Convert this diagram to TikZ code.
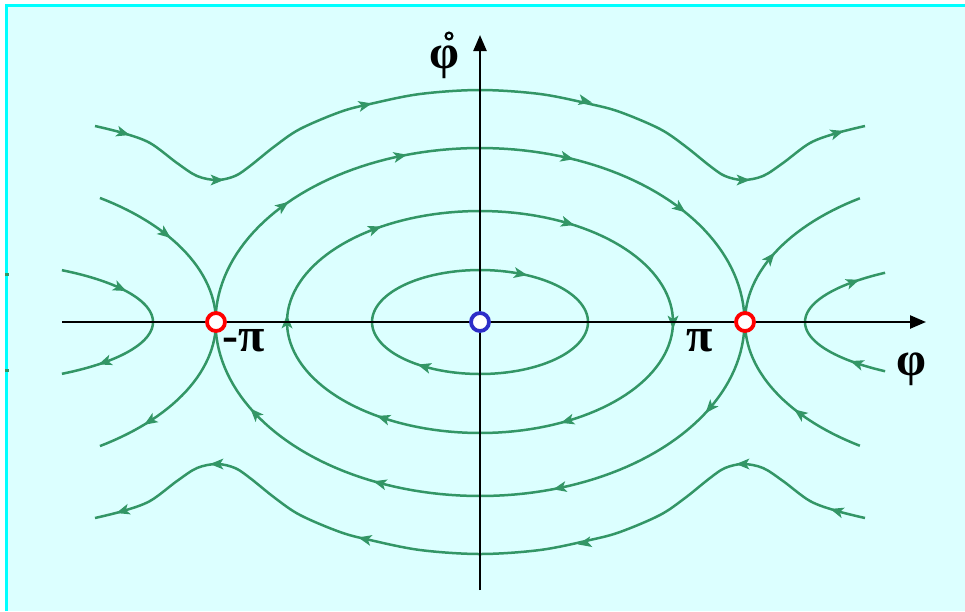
\documentclass[tikz,border=0pt]{standalone}
\usepackage{fontspec}
\setmainfont{Liberation Serif}
\usetikzlibrary{arrows.meta}
\definecolor{bgcyan}{RGB}{220,255,255}
\definecolor{bordercyan}{RGB}{0,255,255}
\definecolor{flowgreen}{RGB}{51,150,102}
\definecolor{eqred}{RGB}{255,0,0}
\definecolor{eqblue}{RGB}{45,45,200}
\newcommand{\tipat}[3]{%
  \begin{scope}[shift={(#1,#2)}, rotate=#3]
    \fill[flowgreen] (7,0) -- (-6.5,5.5) -- (-3,0) -- (-6.5,-5.5) -- cycle;
  \end{scope}}
\newcommand{\elltip}[5]{%
  \pgfmathsetmacro\fltx{#1+(#3)*cos(#5)}%
  \pgfmathsetmacro\flty{#2+(#4)*sin(#5)}%
  \pgfmathsetmacro\flta{atan2(-(#4)*cos(#5),-(#3)*sin(#5))}%
  \tipat{\fltx}{\flty}{\flta}}
\begin{document}
\begin{tikzpicture}[x=1pt,y=-1pt,
  flow/.style={draw=flowgreen, line width=2.5pt},
  axis/.style={draw=black, line width=2.4pt, -{Triangle[length=16pt,width=13pt]}},
  lbl/.style={font=\fontsize{48}{48}\selectfont\bfseries, inner sep=0pt},
  eqpt/.style={line width=3.8pt, fill=white, circle, minimum size=18pt, inner sep=0pt}]
\useasboundingbox (0,0) rectangle (965,611);
\fill[white] (0,0) rectangle (965,611);
\fill[bgcyan] (5,4) rectangle (965,611);
\draw[bordercyan, line width=3pt] (6.5,611) -- (6.5,5.5) -- (965,5.5);
\fill[flowgreen] (5,272.5) rectangle (9,275.5);
\fill[flowgreen] (5,368.5) rectangle (9,371.5);

% closed orbits
\draw[flow] plot[domain=0:360, samples=120, variable=\t] ({480+108*cos(\t)},{322+52*sin(\t)});
\elltip{480}{322}{108}{52}{292}
\elltip{480}{322}{108}{52}{121}
\draw[flow] plot[domain=0:360, samples=150, variable=\t] ({480+193*cos(\t)},{322+111*sin(\t)});
\elltip{480}{322}{193}{111}{237}
\elltip{480}{322}{193}{111}{297}
\elltip{480}{322}{193}{111}{0}
\elltip{480}{322}{193}{111}{63}
\elltip{480}{322}{193}{111}{120}
\elltip{480}{322}{193}{111}{180}
% separatrix
\draw[flow] plot[domain=0:360, samples=180, variable=\t] ({480+264.5*cos(\t)},{322+174*sin(\t)});
\elltip{480}{322}{264.5}{174}{221.8}
\elltip{480}{322}{264.5}{174}{252.4}
\elltip{480}{322}{264.5}{174}{289.2}
\elltip{480}{322}{264.5}{174}{319.1}
\elltip{480}{322}{264.5}{174}{29.5}
\elltip{480}{322}{264.5}{174}{72.4}
\elltip{480}{322}{264.5}{174}{112.2}
\elltip{480}{322}{264.5}{174}{148.2}
% separatrix lobes
\draw[flow] plot[domain=-55.8:55.8, samples=60, variable=\t] ({-49+265*cos(\t)},{322+150*sin(\t)});
\elltip{-49}{322}{265}{150}{-36.1}
\elltip{-49}{322}{265}{150}{41.3}
\draw[flow] plot[domain=124.4:235.6, samples=60, variable=\t] ({1009+264*cos(\t)},{322+150*sin(\t)});
\elltip{1009}{322}{264}{150}{205.2}
\elltip{1009}{322}{264}{150}{142.4}
% inner lobes
\draw[flow] plot[domain=-56.7:56.7, samples=60, variable=\t] ({-49+202*cos(\t)},{322+62*sin(\t)});
\elltip{-49}{322}{202}{62}{-33.2}
\elltip{-49}{322}{202}{62}{40.3}
\draw[flow] plot[domain=127.4:232.6, samples=60, variable=\t] ({1009+204*cos(\t)},{322+62*sin(\t)});
\elltip{1009}{322}{204}{62}{220}
\elltip{1009}{322}{204}{62}{138.2}
% rotating trajectories
\draw[flow] plot[smooth, tension=0.55] coordinates {(95,126) (123,133) (150,143) (177,163) (197,176) (217,180) (235,176) (250,166) (275,146) (300,129) (340,112) (370,104) (420,94) (480,90) (540,94) (590,104) (620,112) (660,129) (685,146) (710,166) (725,176) (743,180) (763,176) (783,163) (810,143) (837,133) (865,126)};
\draw[flow] plot[smooth, tension=0.55] coordinates {(95,518) (123,511) (150,501) (177,481) (197,468) (217,464) (235,468) (250,478) (275,498) (300,515) (340,532) (370,540) (420,550) (480,554) (540,550) (590,540) (620,532) (660,515) (685,498) (710,478) (725,468) (743,464) (763,468) (783,481) (810,501) (837,511) (865,518)};
\tipat{123}{133}{-17}
\tipat{217}{180}{0}
\tipat{365}{105}{13}
\tipat{585}{101}{-12}
\tipat{743}{180}{0}
\tipat{837}{133}{17}
\tipat{123}{511}{197}
\tipat{217}{464}{180}
\tipat{365}{539}{167}
\tipat{585}{543}{192}
\tipat{743}{464}{180}
\tipat{837}{511}{163}

% axes
\coordinate (xs) at (62,322);
\coordinate (xe) at (926,322);
\coordinate (ys) at (480,590);
\coordinate (ye) at (480,35);
\draw[axis] (xs) -- (xe);
\draw[axis] (ys) -- (ye);

% equilibria
\node[eqpt, draw=eqred] (sl) at (216,322) {};
\node[eqpt, draw=eqred] (sr) at (745,322) {};
\node[eqpt, draw=eqblue] (c) at (480,322) {};

% labels
\node[lbl] (phid) at (444,62) {φ};
\draw[line width=2.2pt] (449,36) circle (3.4);
\node[lbl] (mpi) at (244,341) {-π};
\node[lbl] (ppi) at (700,341) {π};
\node[lbl] (phi) at (911,369) {φ};
\end{tikzpicture}
\end{document}
